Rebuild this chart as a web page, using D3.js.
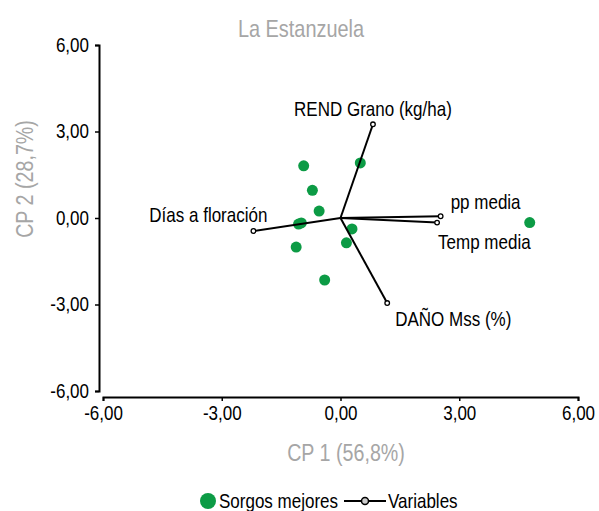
<!DOCTYPE html>
<html>
<head>
<meta charset="utf-8">
<script src="https://cdn.jsdelivr.net/npm/d3@7"></script>
<style>
  body { margin: 0; background: #fff; }
  text { font-family: "Liberation Sans Narrow", "Arial Narrow", "Liberation Sans", Arial, sans-serif; }
</style>
</head>
<body>
<svg id="chart" width="599" height="511"></svg>
<script>
// scores of the sorghum entries (CP1, CP2)
const sorgoX = [-0.93, 0.50, -0.71, -0.54, -1.06, -0.99, -1.12, 0.29, 0.15, -0.40, 4.78];
const sorgoY = [1.81, 1.91, 0.96, 0.24, -0.21, -0.17, -1.01, -0.38, -0.86, -2.15, -0.16];

// variable vectors
const varNames = ['REND Grano (kg/ha)', 'pp media', 'Temp media', 'Días a floración', 'DAÑO Mss (%)'];
const varX = [0.82, 2.53, 2.44, -2.20, 1.18];
const varY = [3.25, 0.06, -0.16, -0.45, -2.95];

const ticks = [-6, -3, 0, 3, 6];
const tickFmt = v => v.toFixed(2).replace('.', ',');

const green = '#0c9b45';
const grey = '#a6a6a6';

// no narrow font installed: squeeze text horizontally around its anchor
function condense(sel, s) {
  sel.each(function () {
    const t = d3.select(this);
    const tx = +t.attr('x') || 0;
    const ty = +t.attr('y') || 0;
    const prev = t.attr('transform') || '';
    t.attr('x', 0).attr('y', 0)
      .attr('transform', `${prev} translate(${tx},${ty}) scale(${s},1)`);
  });
}

const svg = d3.select('#chart');

const x = d3.scaleLinear().domain([-6, 6]).range([103, 578]);
const y = d3.scaleLinear().domain([-6, 6]).range([391, 45]);

// axes
const xAxis = svg.append('g')
  .attr('transform', 'translate(0,397)')
  .call(d3.axisBottom(x).tickValues(ticks).tickFormat(tickFmt).tickSizeOuter(0).tickSize(4));
const yAxis = svg.append('g')
  .attr('transform', 'translate(99,0)')
  .call(d3.axisLeft(y).tickValues(ticks).tickFormat(tickFmt).tickSizeOuter(0).tickSize(4));

[xAxis, yAxis].forEach(a => {
  a.select('.domain').attr('stroke', '#000').attr('stroke-width', 2);
  a.selectAll('.tick line').attr('stroke', '#000').attr('stroke-width', 1.5);
  a.selectAll('.tick text').attr('fill', '#000').style('font-size', '20px');
});
xAxis.selectAll('.tick text').attr('y', 7).attr('dy', '0.8em');
yAxis.selectAll('.tick text').attr('x', -10);
condense(xAxis.selectAll('.tick text'), 0.85);
condense(yAxis.selectAll('.tick text'), 0.85);

// titles
svg.append('text').attr('x', 301).attr('y', 37).attr('text-anchor', 'middle')
  .attr('fill', grey).style('font-size', '24px').text('La Estanzuela')
  .call(condense, 0.83);
svg.append('text').attr('x', 346).attr('y', 461).attr('text-anchor', 'middle')
  .attr('fill', grey).style('font-size', '24px').text('CP 1 (56,8%)')
  .call(condense, 0.82);
svg.append('text').attr('transform', 'translate(33,179) rotate(-90)').attr('text-anchor', 'middle')
  .attr('fill', grey).style('font-size', '24px').text('CP 2 (28,7%)')
  .call(condense, 0.82);

// sorghum points
svg.append('g').selectAll('circle')
  .data(sorgoX.map((d, i) => [d, sorgoY[i]]))
  .join('circle')
  .attr('cx', d => x(d[0]))
  .attr('cy', d => y(d[1]))
  .attr('r', 5.5)
  .attr('fill', green);

// variable vectors
const vars = varNames.map((n, i) => ({ name: n, vx: varX[i], vy: varY[i] }));
const vg = svg.append('g');
vg.selectAll('line')
  .data(vars)
  .join('line')
  .attr('x1', x(0)).attr('y1', y(0))
  .attr('x2', d => x(d.vx)).attr('y2', d => y(d.vy))
  .attr('stroke', '#000').attr('stroke-width', 2);
vg.selectAll('circle')
  .data(vars)
  .join('circle')
  .attr('cx', d => x(d.vx)).attr('cy', d => y(d.vy))
  .attr('r', 2.3)
  .attr('fill', '#fff').attr('stroke', '#000').attr('stroke-width', 1.3);

// label offsets relative to the vector end
const labelPos = {
  'REND Grano (kg/ha)': { dx: 0, dy: -8, anchor: 'middle' },
  'pp media': { dx: 10, dy: -7, anchor: 'start' },
  'Temp media': { dx: 1, dy: 26, anchor: 'start' },
  'Días a floración': { dx: 14, dy: -9, anchor: 'end' },
  'DAÑO Mss (%)': { dx: 8, dy: 23, anchor: 'start' }
};
vg.selectAll('text')
  .data(vars)
  .join('text')
  .attr('x', d => x(d.vx) + labelPos[d.name].dx)
  .attr('y', d => y(d.vy) + labelPos[d.name].dy)
  .attr('text-anchor', d => labelPos[d.name].anchor)
  .style('font-size', '21px')
  .text(d => d.name)
  .call(condense, 0.81);

// legend
const lg = svg.append('g');
lg.append('circle').attr('cx', 208).attr('cy', 501).attr('r', 8).attr('fill', green);
lg.append('text').attr('x', 219).attr('y', 508).style('font-size', '21px').text('Sorgos mejores')
  .call(condense, 0.81);
lg.append('line').attr('x1', 344).attr('x2', 386).attr('y1', 501).attr('y2', 501)
  .attr('stroke', '#000').attr('stroke-width', 2);
lg.append('circle').attr('cx', 365).attr('cy', 501).attr('r', 3.5)
  .attr('fill', '#ccc').attr('stroke', '#000').attr('stroke-width', 1.5);
lg.append('text').attr('x', 388).attr('y', 508).style('font-size', '21px').text('Variables')
  .call(condense, 0.81);
</script>
</body>
</html>
